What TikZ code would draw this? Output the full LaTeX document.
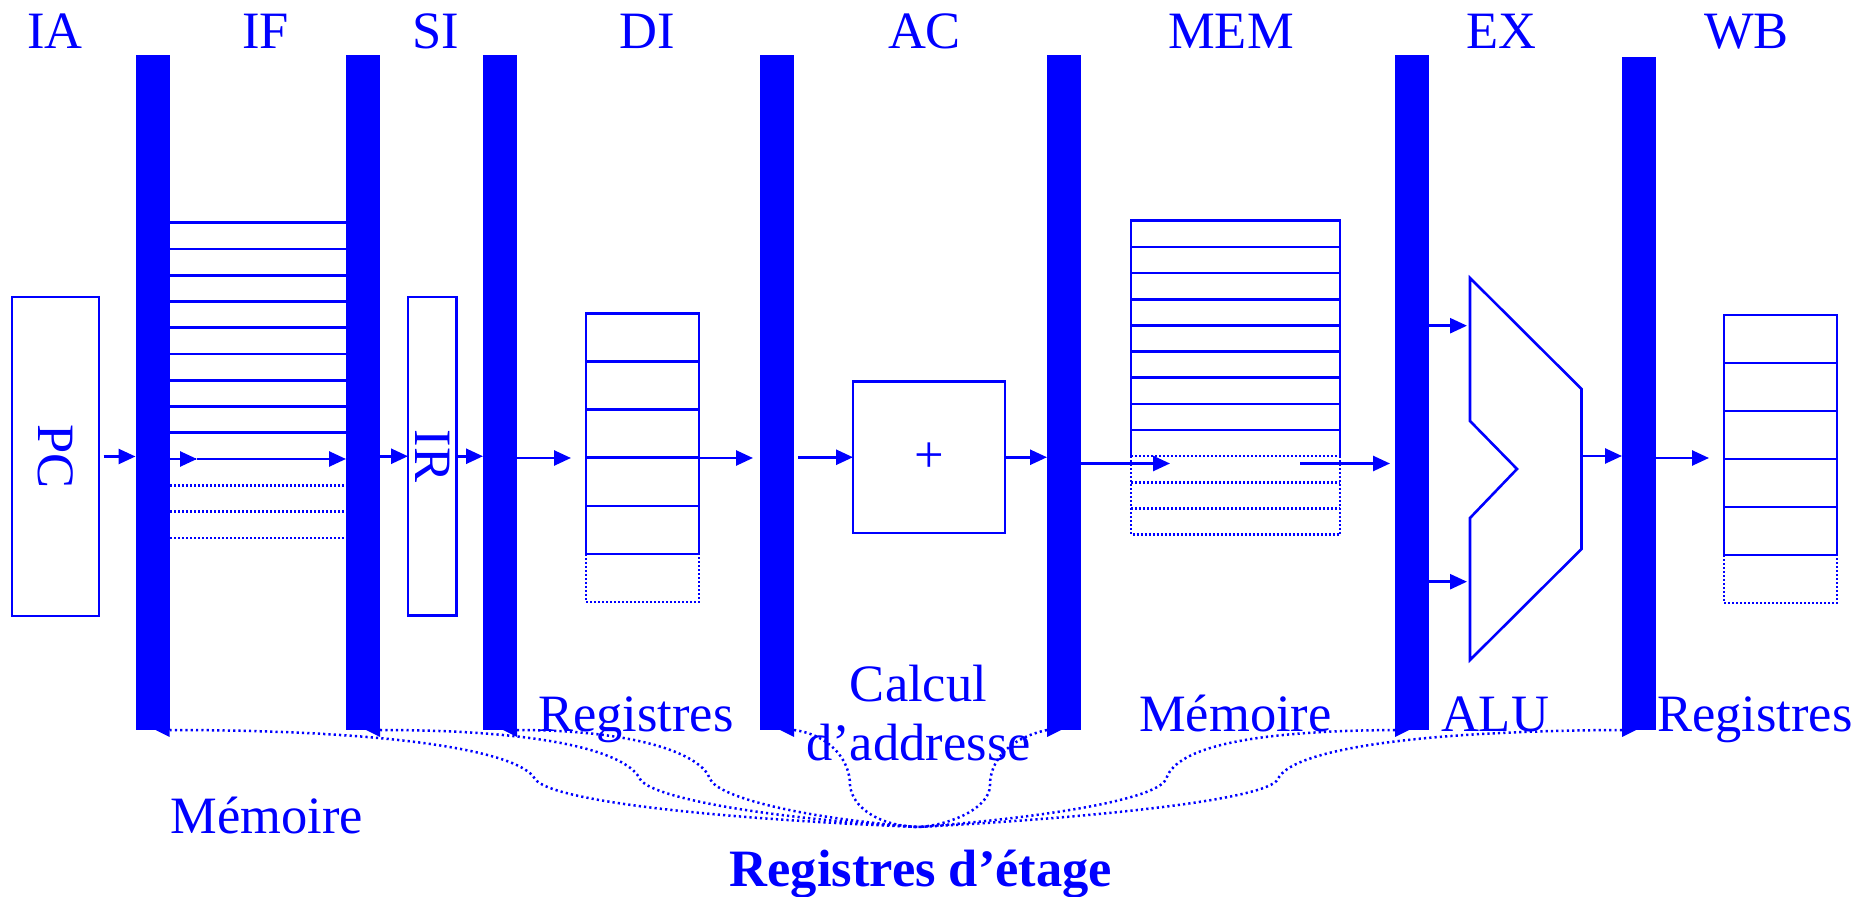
\documentclass[tikz,border=0pt]{standalone}
\usepackage{fontspec}
\setmainfont{Liberation Serif}
\usetikzlibrary{arrows.meta}
\begin{document}
\begin{tikzpicture}[x=0.5pt,y=-0.5pt,
  every node/.style={inner sep=0pt, outer sep=0pt},
  lbl/.style={text=blue, font=\fontsize{26.25pt}{30pt}\selectfont},
  bar/.style={rectangle, fill=blue, minimum width=17pt, minimum height=337.5pt},
  box/.style={rectangle, draw=blue, line width=1.3pt},
  cell/.style={draw=blue, line width=1.3pt},
  dcell/.style={draw=blue, line width=1.25pt, dash pattern=on 1pt off 1pt},
  brace/.style={draw=blue, line width=1.25pt, dash pattern=on 1.1pt off 1.55pt},
  arr/.style={draw=blue, line width=1.3pt, -{Triangle[length=8.5pt,width=7.5pt]}},
]
\useasboundingbox (0,0) rectangle (1875,897);

% stage registers (bars)
\node[bar] (b1) at (152.5,392.5) {};
\node[bar] (b2) at (363,392.5) {};
\node[bar] (b3) at (500,392.5) {};
\node[bar] (b4) at (777,392.5) {};
\node[bar] (b5) at (1064,392.5) {};
\node[bar] (b6) at (1412,392.5) {};
\node[bar, minimum height=336.5pt] (b7) at (1639,393.5) {};
\foreach \b in {b1,b2,b3,b4}
  \fill[blue] ([xshift=-7pt]\b.south east) -- (\b.south east) -- ([yshift=-3.5pt]\b.south east) -- cycle;
\foreach \b in {b5,b6,b7}
  \fill[blue] (\b.south west) -- ([xshift=7pt]\b.south west) -- ([yshift=-3.5pt]\b.south west) -- cycle;

% stage names
\node[lbl, anchor=base] (tIA) at (55,49) {IA};
\node[lbl, anchor=base] (tIF) at (265.5,49) {IF};
\node[lbl, anchor=base] (tSI) at (436,49) {SI};
\node[lbl, anchor=base] (tDI) at (647,49) {DI};
\node[lbl, anchor=base] (tAC) at (924.5,49) {AC};
\node[lbl, anchor=base] (tMEM) at (1231,49) {MEM};
\node[lbl, anchor=base] (tEX) at (1501.5,49) {EX};
\node[lbl, anchor=base] (tWB) at (1746.5,49) {WB};

% PC and IR
\node[box, minimum width=43.5pt, minimum height=159.5pt] (pc) at (55.5,456.5) {};
\node[lbl, rotate=-90] (pct) at (pc) {PC};
\node[box, minimum width=24.25pt, minimum height=159.25pt] (ir) at (432.25,456.25) {};
\node[lbl, rotate=-90] (irt) at (ir) {IR};

% instruction memory (IF)
\foreach \k in {0,...,8} {
  \pgfmathsetmacro\yy{222.7+26.26*\k}
  \draw[cell] (170,\yy) -- (346,\yy);
}
\foreach \k in {9,...,12} {
  \pgfmathsetmacro\yy{222.7+26.26*\k}
  \draw[dcell] (170,\yy) -- (346,\yy);
}

% register file (DI)
\node[box, minimum width=56.5pt, minimum height=120.35pt] (di) at (642.5,433.65) {};
\foreach \k in {1,...,4} {
  \pgfmathsetmacro\yy{313.3+48.15*\k}
  \draw[cell] (586,\yy) -- (699,\yy);
}
\draw[dcell] (586,554) -- (586,602) -- (699,602) -- (699,554);

% adder (AC)
\node[box, minimum width=76pt, minimum height=75.75pt] (add) at (929,457.25) {};
\node[lbl] (plus) at (add) {+};

% data memory (MEM)
\draw[cell] (1131,456.2) -- (1131,220.7) -- (1340,220.7) -- (1340,456.2);
\foreach \k in {1,...,8} {
  \pgfmathsetmacro\yy{220.7+26.17*\k}
  \draw[cell] (1131,\yy) -- (1340,\yy);
}
\draw[dcell] (1131,456.2) -- (1131,534.7) -- (1340,534.7) -- (1340,456.2);
\draw[dcell] (1131,456.2) -- (1340,456.2);
\draw[dcell] (1131,482.4) -- (1340,482.4);
\draw[dcell] (1131,508.6) -- (1340,508.6);

% ALU (EX)
\draw[cell, line join=miter] (1470,278) -- (1581.5,389) -- (1581.5,549) -- (1470,660) -- (1470,518) -- (1517,469) -- (1470,421) -- cycle;
\coordinate (aluA) at (1467,325.7);
\coordinate (aluB) at (1467,581.7);
\coordinate (aluO) at (1581.5,456);

% register file (WB)
\node[box, minimum width=56.5pt, minimum height=120pt] (wb) at (1780.5,435) {};
\foreach \k in {1,...,4} {
  \pgfmathsetmacro\yy{315+48*\k}
  \draw[cell] (1724,\yy) -- (1837,\yy);
}
\draw[dcell] (1724,555) -- (1724,603) -- (1837,603) -- (1837,555);

% data-path arrows
\draw[arr] ([xshift=2.25pt]pc.east) -- (b1.west |- pc.east);
\coordinate (m1) at (197,459);
\draw[arr] (b1.east |- m1) -- (m1);
\draw[arr] (m1) -- (b2.west |- m1);
\draw[arr] (b2.east |- ir) -- (ir.west);
\draw[arr] (ir.east) -- (b3.west |- ir);
\coordinate (diin) at (571,458);
\draw[arr] (b3.east |- diin) -- (diin);
\coordinate (diout) at (753,458);
\draw[arr] (di.east |- diout) -- (diout);
\draw[arr] ([xshift=2pt]b4.east |- add) -- (add.west);
\draw[arr] (add.east) -- (b5.west |- add);
\coordinate (memin) at (1170,463.5);
\coordinate (memout) at (1300,463.5);
\coordinate (exin) at (1390,463.5);
\draw[arr] (b5.east |- memin) -- (memin);
\draw[arr] (memout) -- (exin);
\draw[arr] (b6.east |- aluA) -- (aluA);
\draw[arr] (b6.east |- aluB) -- (aluB);
\draw[arr] (aluO) -- (b7.west |- aluO);
\coordinate (wbin) at (1709,458);
\draw[arr] (b7.east |- wbin) -- (wbin);

% braces to the stage-register label
\coordinate (cb) at (918,827);
\draw[brace] (b1.south east) .. controls (400,730) and (520,752) .. (535,779) .. controls (550,800) and (700,818) .. (cb);
\draw[brace] (b2.south east) .. controls (560,730) and (628,755) .. (640,779) .. controls (650,797) and (760,818) .. (cb);
\draw[brace] (b3.south east) .. controls (640,730) and (702,755) .. (710,779) .. controls (718,797) and (800,818) .. (cb);
\draw[brace] (b4.south east) .. controls (830,735) and (850,760) .. (850,785) .. controls (852,808) and (880,826) .. (cb);
\draw[brace] (b5.south west) .. controls (1010,738) and (990,760) .. (990,785) .. controls (990,810) and (945,826) .. (cb);
\draw[brace] (b6.south west) .. controls (1230,731) and (1175,752) .. (1166,779) .. controls (1157,800) and (1040,818) .. (cb);
\draw[brace] (b7.south west) .. controls (1400,731) and (1290,752) .. (1278,779) .. controls (1268,800) and (1090,818) .. (cb);

% unit labels
\node[lbl, anchor=base] (lreg1) at (636,732) {Registres};
\node[lbl, anchor=base] (lcalc) at (918.5,702) {Calcul};
\node[lbl, anchor=base] (laddr) at (918.5,761) {d’addresse};
\node[lbl, anchor=base] (lmem2) at (1235.5,732) {Mémoire};
\node[lbl, anchor=base] (lalu) at (1495,732) {ALU};
\node[lbl, anchor=base] (lreg2) at (1755,732) {Registres};
\node[lbl, anchor=base] (lmem1) at (267,833.5) {Mémoire};
\node[lbl, anchor=base, font=\fontsize{26.25pt}{30pt}\selectfont\bfseries] (lstage) at (921,886) {Registres d’étage};
\end{tikzpicture}
\end{document}
